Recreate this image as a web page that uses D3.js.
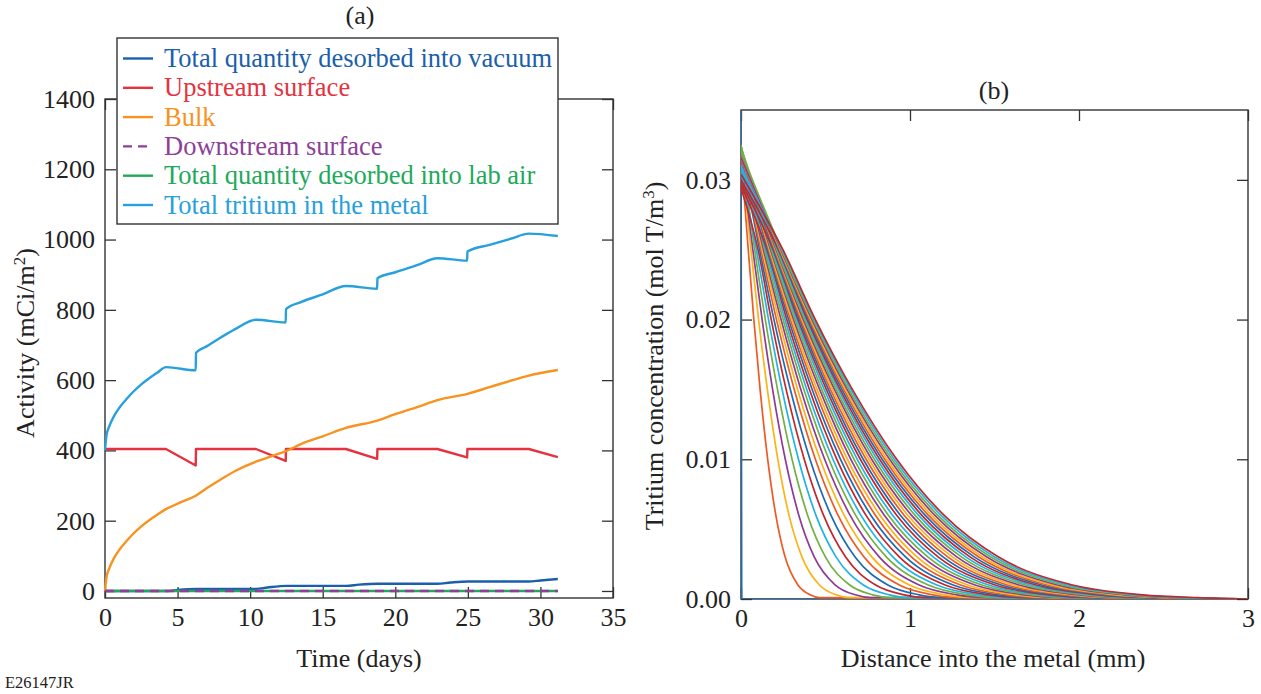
<!DOCTYPE html>
<html>
<head>
<meta charset="utf-8">
<script src="https://cdn.jsdelivr.net/npm/d3@7"></script>
<style>
  body { margin: 0; background: #fff; }
  svg { display: block; }
  svg text { font-family: "Liberation Serif", "Times New Roman", serif; }
  .tick text { font-size: 26px; fill: #222; }
  .tick line { stroke: #333; stroke-width: 1.3; }
</style>
</head>
<body>
<svg id="chart" width="1261" height="694"></svg>
<script>
// ---- (a) activity vs time (mCi/m2) ----
const vacuumDays = [0, 4.3, 5, 6.3, 10.4, 11.2, 12.5, 16.6, 17.5, 18.8, 22.9, 23.8, 25, 29.2, 30, 31.2];
const vacuumActivity = [0, 0, 3, 6, 6, 10, 14.5, 14.5, 18, 20.5, 20.5, 24, 27, 27, 30, 34];

const upstreamDays = [0, 4.2, 6.25, 6.27, 10.4, 12.45, 12.47, 16.6, 18.75, 18.77, 22.9, 24.95, 24.97, 29.2, 31.2];
const upstreamActivity = [404, 404, 357, 404, 404, 370, 404, 404, 376, 404, 404, 380, 404, 404, 381];

const bulkDays = [0, 0.1, 0.3, 0.6, 1, 1.5, 2, 2.5, 3, 3.6, 4.2, 5.2, 6.25, 7, 8, 9, 10.4, 11.5, 12.47, 13.5,
  15, 16.6, 18.77, 20, 21.5, 22.9, 24.97, 26.5, 28, 29.2, 31.2];
const bulkActivity = [0, 38, 65, 92, 118, 143, 165, 184, 200, 217, 233, 252, 271, 292, 318, 342, 368, 384, 398, 418,
  440, 464, 485, 503, 523, 543, 561, 580, 599, 613, 629];

const downstreamDays = [0, 31.2];
const downstreamActivity = [0, 0];

const labAirDays = [0, 31.2];
const labAirActivity = [0, 0];

const metalDays = [0, 0.1, 0.3, 0.6, 1, 1.5, 2, 2.5, 3, 3.6, 4.2, 6.25, 6.27, 7, 8, 9, 10.4, 12.45, 12.47, 13.5,
  15, 16.6, 18.75, 18.77, 20, 21.5, 22.9, 24.95, 24.97, 26.5, 28, 29.2, 31.2];
const metalActivity = [400, 442, 469, 496, 522, 547, 569, 588, 604, 621, 637, 628, 678, 696, 722, 746, 772, 764, 802, 822,
  844, 868, 860, 890, 907, 927, 947, 940, 966, 985, 1003, 1017, 1010];

const legendLabels = [
  'Total quantity desorbed into vacuum',
  'Upstream surface',
  'Bulk',
  'Downstream surface',
  'Total quantity desorbed into lab air',
  'Total tritium in the metal'
];

const timeTicks = [0, 5, 10, 15, 20, 25, 30, 35];
const activityTicks = [0, 200, 400, 600, 800, 1000, 1200, 1400];

// ---- (b) concentration profiles, one row per output time ----
// depth (mm) at which each profile crosses the concentration levels below
const concLevels = [0.025, 0.02, 0.015, 0.01, 0.006, 0.003, 0.001, 0.0003, 0.0001];
const tailDepth = 3;

const initialDepth = [0, 0.004, 3];
const initialConc = [0.035, 0, 0];

const surfaceConc = [
  0.0318, 0.0318, 0.0318, 0.0325, 0.0306, 0.0294, 0.0318, 0.0318, 0.0318, 0.0318,
  0.0325, 0.0308, 0.0296, 0.0318, 0.0318, 0.0318, 0.0318, 0.0324, 0.0309, 0.0298,
  0.0318, 0.0317, 0.0317, 0.0317, 0.0323, 0.0310, 0.0300, 0.0317, 0.0317, 0.0316,
  0.0316, 0.0320, 0.0308, 0.0304
];

const profileDepths = [
  [0.043, 0.076, 0.113, 0.158, 0.206, 0.261, 0.337, 0.408, 0.463],
  [0.059, 0.104, 0.156, 0.218, 0.284, 0.361, 0.464, 0.562, 0.639],
  [0.070, 0.125, 0.187, 0.262, 0.342, 0.434, 0.558, 0.676, 0.768],
  [0.081, 0.144, 0.216, 0.302, 0.394, 0.500, 0.643, 0.779, 0.885],
  [0.091, 0.163, 0.243, 0.340, 0.443, 0.563, 0.724, 0.877, 0.996],
  [0.101, 0.179, 0.267, 0.374, 0.488, 0.619, 0.797, 0.965, 1.096],
  [0.110, 0.195, 0.292, 0.408, 0.532, 0.675, 0.869, 1.053, 1.195],
  [0.118, 0.210, 0.315, 0.440, 0.574, 0.728, 0.937, 1.135, 1.289],
  [0.126, 0.224, 0.335, 0.468, 0.610, 0.775, 0.997, 1.207, 1.371],
  [0.133, 0.237, 0.354, 0.495, 0.645, 0.819, 1.054, 1.277, 1.450],
  [0.140, 0.249, 0.372, 0.520, 0.678, 0.861, 1.108, 1.342, 1.524],
  [0.146, 0.260, 0.389, 0.544, 0.709, 0.900, 1.159, 1.404, 1.594],
  [0.153, 0.271, 0.405, 0.567, 0.739, 0.938, 1.208, 1.463, 1.661],
  [0.158, 0.282, 0.421, 0.589, 0.768, 0.975, 1.255, 1.520, 1.726],
  [0.164, 0.292, 0.436, 0.610, 0.795, 1.010, 1.299, 1.574, 1.787],
  [0.169, 0.301, 0.450, 0.630, 0.822, 1.043, 1.342, 1.625, 1.846],
  [0.175, 0.311, 0.465, 0.650, 0.848, 1.076, 1.385, 1.677, 1.905],
  [0.180, 0.320, 0.478, 0.669, 0.872, 1.107, 1.425, 1.726, 1.960],
  [0.185, 0.329, 0.492, 0.688, 0.897, 1.139, 1.465, 1.775, 2.016],
  [0.190, 0.337, 0.505, 0.706, 0.921, 1.168, 1.504, 1.821, 2.069],
  [0.194, 0.346, 0.517, 0.723, 0.943, 1.197, 1.540, 1.865, 2.118],
  [0.199, 0.354, 0.529, 0.740, 0.965, 1.225, 1.576, 1.909, 2.168],
  [0.204, 0.362, 0.541, 0.757, 0.987, 1.253, 1.612, 1.953, 2.218],
  [0.208, 0.369, 0.553, 0.773, 1.008, 1.279, 1.646, 1.994, 2.265],
  [0.212, 0.377, 0.564, 0.789, 1.029, 1.306, 1.681, 2.036, 2.312],
  [0.217, 0.385, 0.576, 0.805, 1.050, 1.332, 1.715, 2.077, 2.359],
  [0.221, 0.392, 0.586, 0.820, 1.069, 1.357, 1.747, 2.116, 2.403],
  [0.225, 0.399, 0.597, 0.835, 1.089, 1.382, 1.779, 2.154, 2.447],
  [0.229, 0.406, 0.608, 0.850, 1.108, 1.407, 1.811, 2.193, 2.491],
  [0.232, 0.413, 0.618, 0.864, 1.127, 1.430, 1.840, 2.229, 2.532],
  [0.236, 0.420, 0.628, 0.879, 1.146, 1.455, 1.872, 2.268, 2.575],
  [0.240, 0.427, 0.638, 0.893, 1.164, 1.478, 1.902, 2.304, 2.616],
  [0.244, 0.434, 0.649, 0.907, 1.183, 1.501, 1.932, 2.340, 2.658],
  [0.248, 0.440, 0.659, 0.921, 1.201, 1.524, 1.962, 2.376, 2.699]
];

const depthTicks = [0, 1, 2, 3];
const concTicks = [0, 0.01, 0.02, 0.03];

// ---- layout / style ----
const TICK_PX = 11;
const FONT_PX = 26;
const FRAME_COLOR = '#333';

const BOX_A = { left: 105, right: 613, top: 99, bottom: 598 };
const BOX_B = { left: 741, right: 1248, top: 110, bottom: 599 };

const SERIES_COLORS = ['#1b5fab', '#e5323f', '#f7931e', '#8e3f98', '#21a95b', '#28a0dc'];
const PROFILE_COLORS = ['#1c6cb4', '#ee5a24', '#fbb316', '#8e3b96', '#71b043', '#1fb4e6', '#c1272d'];
const DASH = '9,6';

const LEGEND_X = 117;
const LEGEND_Y = 38;
const LEGEND_W = 441;
const LEGEND_H = 186;
const LEGEND_ROW0_PX = 58.5;
const LEGEND_ROW_STEP_PX = 29.3;

const svg = d3.select('#chart');

function drawFrame(box, x, y, xTicks, yTicks, yFormat) {
  const g = svg.append('g');
  g.append('g')
    .attr('transform', `translate(0,${box.bottom})`)
    .call(d3.axisBottom(x).tickValues(xTicks).tickSize(-TICK_PX).tickPadding(10).tickFormat(d3.format('d')));
  g.append('g')
    .attr('transform', `translate(0,${box.top})`)
    .call(d3.axisTop(x).tickValues(xTicks).tickSize(-TICK_PX).tickFormat(''));
  g.append('g')
    .attr('transform', `translate(${box.left},0)`)
    .call(d3.axisLeft(y).tickValues(yTicks).tickSize(-TICK_PX).tickPadding(10).tickFormat(yFormat));
  g.append('g')
    .attr('transform', `translate(${box.right},0)`)
    .call(d3.axisRight(y).tickValues(yTicks).tickSize(-TICK_PX).tickFormat(''));

  g.selectAll('.domain').remove();

  g.append('rect')
    .attr('x', box.left)
    .attr('y', box.top)
    .attr('width', box.right - box.left)
    .attr('height', box.bottom - box.top)
    .attr('fill', 'none')
    .attr('stroke', FRAME_COLOR)
    .attr('stroke-width', 1.4);
}

function addText(x, y, str, opts = {}) {
  return svg.append('text')
    .attr('x', x)
    .attr('y', y)
    .attr('font-size', opts.size || FONT_PX)
    .attr('text-anchor', opts.anchor || 'middle')
    .attr('fill', opts.fill || '#222')
    .text(str);
}

// ================= panel (a) =================
const xA = d3.scaleLinear().domain([0, 35]).range([BOX_A.left, BOX_A.right]);
const yA = d3.scaleLinear().domain([-20, 1400]).range([BOX_A.bottom, BOX_A.top]);

drawFrame(BOX_A, xA, yA, timeTicks, activityTicks, d3.format('d'));

const seriesA = [
  { days: vacuumDays, values: vacuumActivity, color: SERIES_COLORS[0], curve: d3.curveMonotoneX },
  { days: upstreamDays, values: upstreamActivity, color: SERIES_COLORS[1], curve: d3.curveLinear },
  { days: bulkDays, values: bulkActivity, color: SERIES_COLORS[2], curve: d3.curveMonotoneX },
  { days: labAirDays, values: labAirActivity, color: SERIES_COLORS[4], curve: d3.curveLinear },
  { days: downstreamDays, values: downstreamActivity, color: SERIES_COLORS[3], curve: d3.curveLinear, dash: DASH },
  { days: metalDays, values: metalActivity, color: SERIES_COLORS[5], curve: d3.curveMonotoneX }
];

svg.append('g')
  .selectAll('path')
  .data(seriesA)
  .join('path')
  .attr('d', s => d3.line()
    .x(d => xA(d[0]))
    .y(d => yA(d[1]))
    .curve(s.curve)(s.days.map((t, i) => [t, s.values[i]])))
  .attr('fill', 'none')
  .attr('stroke', s => s.color)
  .attr('stroke-width', 2.4)
  .attr('stroke-linejoin', 'round')
  .attr('stroke-dasharray', s => s.dash || null);

// legend sits on top of the frame
const legend = svg.append('g');
legend.append('rect')
  .attr('x', LEGEND_X)
  .attr('y', LEGEND_Y)
  .attr('width', LEGEND_W)
  .attr('height', LEGEND_H)
  .attr('fill', '#fff')
  .attr('stroke', FRAME_COLOR)
  .attr('stroke-width', 1.4);

legendLabels.forEach((label, i) => {
  const rowY = LEGEND_ROW0_PX + i * LEGEND_ROW_STEP_PX;
  legend.append('line')
    .attr('x1', LEGEND_X + 6)
    .attr('x2', LEGEND_X + 36)
    .attr('y1', rowY)
    .attr('y2', rowY)
    .attr('stroke', SERIES_COLORS[i])
    .attr('stroke-width', 2.4)
    .attr('stroke-dasharray', i === 3 ? DASH : null);
  legend.append('text')
    .attr('x', LEGEND_X + 47)
    .attr('y', rowY + 8.5)
    .attr('font-size', 26.5)
    .attr('fill', SERIES_COLORS[i])
    .text(label);
});

addText(360, 24, '(a)');
addText(359, 667, 'Time (days)');

const yLabelA = svg.append('text')
  .attr('transform', 'translate(34,343) rotate(-90)')
  .attr('text-anchor', 'middle')
  .attr('font-size', FONT_PX)
  .attr('fill', '#222');
yLabelA.append('tspan').text('Activity (mCi/m');
yLabelA.append('tspan').attr('baseline-shift', 'super').attr('font-size', 17).text('2');
yLabelA.append('tspan').text(')');

addText(5, 688, 'E26147JR', { size: 16.5, anchor: 'start' });

// ================= panel (b) =================
const xB = d3.scaleLinear().domain([0, 3]).range([BOX_B.left, BOX_B.right]);
const yB = d3.scaleLinear().domain([0, 0.035]).range([BOX_B.bottom, BOX_B.top]);

drawFrame(BOX_B, xB, yB, depthTicks, concTicks, d3.format('.2f'));

const profiles = [initialDepth.map((d, i) => [d, initialConc[i]])];
surfaceConc.forEach((c0, i) => {
  const pts = [[0, c0]];
  profileDepths[i].forEach((d, j) => pts.push([d, concLevels[j]]));
  pts.push([tailDepth, 0]);
  profiles.push(pts);
});

const lineB = d3.line()
  .x(d => xB(d[0]))
  .y(d => yB(d[1]))
  .curve(d3.curveMonotoneX);

svg.append('defs').append('clipPath')
  .attr('id', 'clipB')
  .append('rect')
  .attr('x', BOX_B.left)
  .attr('y', BOX_B.top)
  .attr('width', BOX_B.right - BOX_B.left)
  .attr('height', BOX_B.bottom - BOX_B.top);

svg.append('g')
  .attr('clip-path', 'url(#clipB)')
  .selectAll('path')
  .data(profiles)
  .join('path')
  .attr('d', (p, i) => i === 0 ? d3.line().x(d => xB(d[0])).y(d => yB(d[1]))(p) : lineB(p))
  .attr('fill', 'none')
  .attr('stroke', (p, i) => PROFILE_COLORS[i % PROFILE_COLORS.length])
  .attr('stroke-width', 1.7);

addText(994, 99, '(b)');
addText(993, 667, 'Distance into the metal (mm)');

const yLabelB = svg.append('text')
  .attr('transform', 'translate(663,356) rotate(-90)')
  .attr('text-anchor', 'middle')
  .attr('font-size', FONT_PX)
  .attr('fill', '#222');
yLabelB.append('tspan').text('Tritium concentration (mol T/m');
yLabelB.append('tspan').attr('baseline-shift', 'super').attr('font-size', 17).text('3');
yLabelB.append('tspan').text(')');
</script>
</body>
</html>
